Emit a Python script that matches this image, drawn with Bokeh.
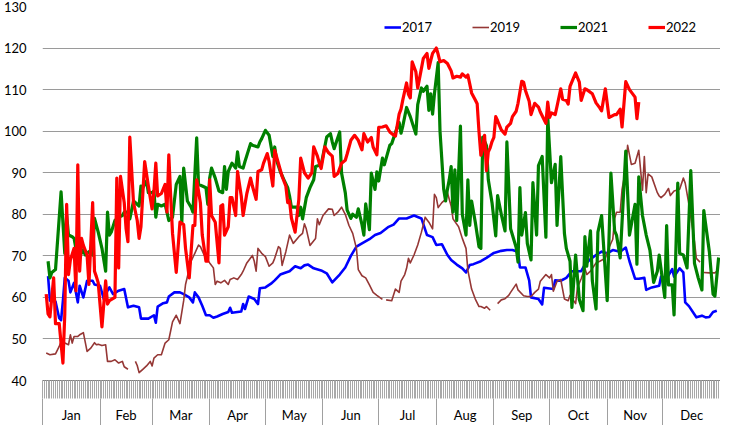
import numpy as np
from bokeh.plotting import figure
from bokeh.models import Range1d, FixedTicker, LinearAxis, Legend, LegendItem
from bokeh.embed import file_html
from bokeh.resources import INLINE

NaN = float("nan")

# ---- axis definitions ----
months = ["Jan", "Feb", "Mar", "Apr", "May", "Jun", "Jul", "Aug", "Sep", "Oct", "Nov", "Dec"]
month_starts = [0, 31, 59, 90, 120, 151, 181, 212, 243, 273, 304, 334, 365]
y_ticks = [40, 50, 60, 70, 80, 90, 100, 110, 120, 130]

# ---- series: (day of year, value) ----
pts_2017 = [(3,65.1),(4,59.2),(7,59),(9,55),(10,54.5),(11,59.2),(12,64.7),(14,64),(15,61.2),(17,63.5),
 (19,58.8),(20,62.8),(22,60),(24,64),(27,64),(28,63.1),(31,62.8),(33,59.6),(35,61.6),(36,62.4),
 (38,60.8),(41,61.6),(44,62),(46,57.6),(49,58),(52,57.6),(53,54.9),(57,54.9),(60,55.7),(61,53.9),
 (62,57.8),(65,58.6),(67,58.8),(68,60.2),(71,61.2),(74,61.2),(76,60.8),(79,60),(81,58.8),(82,61.2),
 (84,60),(86,58),(88,55.7),(90,55.7),(92,55.1),(94,55.4),(97,56),(100,56.5),(101,57.5),(102,56.3),
 (107,56.6),(108,58.4),(109,57.2),(111,60.2),(114,59.6),(116,58.4),(117,62.2),(120,62.4),(123,63.3),(125,64.1),
 (128,65.5),(131,66),(133,66.3),(136,67.5),(139,67),(141,67.7),(143,67.9),(146,67),(150,66.5),(153,65.8),
 (156,63.6),(160,65.5),(163,67.2),(166,70),(169,72.2),(172,73),(176,74),(179,75),(182,75.5),(186,76.9),
 (189,77.5),(192,79),(196,79),(200,79.7),(204,79),(207,75),(210,74.5),(212,72.6),(215,72.8),(218,70.2),
 (220,69),(223,67.9),(226,67),(228,66),(230,67.8),(232,68),(236,68.7),(239,69.5),(243,70.7),(247,71.2),
 (250,71.4),(253,71.4),(256,71),(257,67.2),(260,67.2),(262,64.1),(263,60),(267,59.6),(269,58.3),(270,62.3),
 (275,62),(276,64.1),(279,64),(282,64.7),(285,66.3),(290,66.3),(292,67.9),(295,69.2),(298,70.2),(301,71),
 (304,70.6),(307,71.4),(311,71),(314,72),(316,68.7),(319,64.5),(321,64.5),(324,64.7),(325,61.8),(328,62.4),
 (332,62.8),(333,65),(336,64.5),(339,66.8),(340,65),(343,67),(345,66),(346,58.8),(348,57.9),(352,55.2),
 (355,55.6),(357,55.2),(359,55.3),(361,56.5),(363,56.8)]

pts_2019 = [(2,46.6),(4,46.2),(7,46.4),(9,48.2),(10,49.4),(12,49),(14,48.6),(15,51),(16,49),(17,50.6),
 (19,50.6),(20,51),(22,51.5),(24,47),(26,47.8),(28,49.1),(29,48.6),(30,48.7),(32,48.4),(34,48.6),
 (35,44.6),(37,44.6),(39,45),(41,44.2),(43,44.6),(44,43.3),(46,42.7),(48,NaN),(50,44.6),(51,43.6),
 (52,41.9),(54,42.7),(56,43.5),(58,44.6),(59,43.5),(60,45.4),(62,46.2),(64,46.2),(66,49),(68,49.8),
 (70,54.1),(72,55.7),(74,53.7),(76,59.2),(77,63.1),(80,68.7),(82,70.6),(84,72.6),(85,72.2),(87,70.2),
 (90,68.3),(92,67.1),(93,63.1),(94,63.9),(96,63.5),(98,64.1),(100,63.1),(101,64.3),(103,64.7),(105,64.3),
 (107,65.5),(108,66.3),(110,68.3),(113,70.1),(114,68.7),(115,66.3),(116,71.8),(118,70.6),(120,69.8),(122,67.5),
 (124,68.3),(125,69.4),(127,72.2),(128,71.8),(129,67.7),(131,71),(133,75),(135,73),(138,74.6),(140,75.4),
 (141,77.7),(142,76.5),(144,72.5),(147,74.2),(148,78.9),(149,77.5),(151,79.7),(154,81.3),(156,81.2),(157,79.7),
 (159,80.5),(161,81.7),(163,80),(165,77.3),(167,75.4),(169,71.8),(170,66.7),(172,65.2),(174,64.7),(176,63),
 (178,61.2),(180,60.5),(183,59.5),(184,NaN),(185,59.4),(188,59.2),(190,62),(192,61.2),(193,63.9),(195,65.5),
 (196,67),(197,69.4),(198,68.3),(200,70.2),(202,72.6),(204,75.7),(206,79.3),(208,78.1),(210,76.5),(211,84.8),
 (212,84),(213,81.6),(215,82.8),(217,83.6),(218,85.2),(220,82),(221,78.9),(224,77),(226,74.2),(228,71.8),
 (229,66.5),(231,62),(233,59.6),(235,57.8),(236,57.8),(238,57.4),(239,57.8),(241,56.9),(243,NaN),(245,58.5),
 (247,59.4),(249,59.7),(251,60.5),(252,61.2),(255,63.2),(256,61.8),(259,60.4),(261,60.2),(263,60.2),(265,61.2),
 (267,62),(268,63.9),(271,65.5),(273,64.7),(274,65.5),(275,61.5),(277,63.9),(279,64.3),(281,59.6),(283,59.2),
 (284,60.5),(287,58.5),(288,62.4),(290,64.5),(292,67),(293,65.5),(295,66.3),(298,68.3),(300,68.7),(303,69.4),
 (305,72),(307,74),(308,79),(309,80.5),(311,80.5),(312,86),(314,91),(315,96.6),(317,92),(319,92.3),
 (321,95.4),(323,85.8),(324,93.9),(325,85.2),(326,89.7),(328,89),(331,85.2),(332,84.4),(333,84),(335,84.8),
 (337,86.2),(338,84.5),(340,85.6),(343,86),(345,88.7),(346,87.5),(348,82.4),(351,73.4),(352,69.4),(354,68.5),
 (355,NaN),(356,66),(359,65.9),(362,65.9),(364,66.7)]

pts_2021 = [(3,68.7),(4,64.7),(5,66),(7,66.7),(10,85.4),(12,70.6),(13,79.7),(14,75),(16,74.6),(17,74.2),
 (18,71.8),(20,73.4),(21,70.6),(22,71.4),(23,70.2),(25,71),(27,70.2),(28,79),(30,75.7),(32,71.8),
 (34,66.3),(35,80.5),(36,75),(37,75.7),(39,78.5),(41,79.3),(43,79.7),(44,80.5),(46,80.5),(47,78.9),
 (49,83.2),(52,82),(53,86.8),(54,86.4),(56,88),(57,85.2),(59,85.2),(60,85.6),(61,79.3),(62,82.4),
 (64,82),(66,82.4),(67,80.5),(68,78.5),(70,79.3),(72,87.2),(74,89.1),(75,78.1),(76,91.1),(78,83.2),
 (80,81.7),(81,80.5),(83,98.4),(84,87.2),(86,86.8),(88,86.4),(89,82.4),(90,88.7),(91,91.1),(93,88.7),
 (95,85.6),(97,85.2),(98,91.5),(99,86),(100,90.3),(102,92.3),(104,91.1),(105,95),(106,91.5),(108,91.1),
 (109,92.7),(112,97),(113,96.6),(116,96.2),(117,97.4),(118,98.2),(120,100.2),(122,99),(124,93.9),(125,96.2),
 (126,93),(128,90.3),(130,88.3),(132,86.4),(133,84.4),(134,81.7),(137,81.7),(138,79.7),(139,81.7),(140,78.9),
 (142,84),(144,86.4),(146,88.3),(147,91.5),(150,91.9),(153,98.6),(155,99.4),(156,97.4),(157,95.8),(160,99.8),
 (161,89.9),(163,85.2),(164,81),(166,79),(167,80),(169,79.3),(170,81.3),(172,77.5),(173,75),(174,82.5),
 (176,76.3),(177,89.9),(179,86),(180,90.2),(181,88),(183,93.5),(184,91.9),(187,96.6),(188,97),(191,101),
 (192,102.1),(193,99.5),(194,101.3),(196,105.7),(198,103.5),(201,99.3),(202,106.4),(204,110.4),(205,109.6),(207,110.8),
 (208,105),(209,109),(210,104.1),(211,109),(213,116.5),(214,100),(216,86),(217,83.2),(218,86),(219,88.4),
 (220,91.5),(221,80.5),(222,90.7),(223,78.5),(225,101.2),(226,80),(228,75),(229,88.3),(230,77.3),(231,83.2),
 (233,78.1),(235,72.2),(236,71.8),(237,98.6),(239,96.5),(240,88.3),(242,82.8),(244,74.8),(245,84.5),(247,80),
 (249,76),(250,97.4),(252,76.5),(255,72),(256,68.5),(257,86.4),(258,75),(260,80.4),(261,73),(263,69),
 (264,87.6),(266,75),(267,91.7),(269,93.9),(271,74.5),(272,103.5),(274,87.6),(276,92),(277,77.3),(279,93.9),
 (281,75.3),(282,71.8),(284,68.7),(285,57.6),(287,70.2),(288,64.7),(289,59.5),(291,56.8),(292,74.6),(293,67.5),
 (295,76),(296,64),(298,57.2),(299,75.7),(301,79.7),(304,59.2),(306,89.9),(308,76),(309,75),(311,69.5),
 (314,95.2),(316,75),(319,82.4),(320,68),(321,89),(323,79.7),(325,75),(327,71.4),(329,63.6),(331,66.3),
 (332,70.2),(335,60),(336,77.3),(337,63),(339,63),(340,55.8),(342,87.5),(343,70.6),(345,70.2),(347,67.1),
 (349,90.5),(351,68.2),(353,64.7),(355,61.8),(356,80.9),(359,71),(361,60.8),(362,60.3),(364,69.6)]

pts_2022 = [(2,60.8),(3,56),(4,55.3),(6,64.7),(7,53.7),(9,53.7),(11,44.2),(12,56),(13,82.4),(14,65.5),
 (15,69),(17,71.8),(18,61.6),(19,91.9),(20,66.3),(21,74.2),(22,72.5),(24,70.2),(25,63.1),(27,82.8),
 (28,66.3),(29,65),(30,63.5),(32,52.9),(34,64),(35,58.4),(36,59.2),(39,60),(40,88.7),(41,67.1),
 (42,89.1),(44,82.8),(45,76.5),(46,73.4),(47,98.6),(49,82.8),(51,78.5),(52,74.2),(53,77),(55,92.7),
 (57,86.8),(59,81.3),(60,85.6),(61,92.3),(62,84.4),(64,85),(66,87.2),(67,80.5),(68,94.3),(69,84.4),
 (70,75.4),(72,66),(74,78.1),(76,77.5),(77,71.8),(79,64.7),(81,77.3),(82,77.3),(83,88.3),(85,82.8),
 (86,75),(88,68.7),(89,68.7),(90,88.3),(91,79.7),(93,78.1),(95,68.3),(96,82),(97,82.3),(98,75),
 (100,77),(101,84),(102,84),(104,79.7),(105,90.3),(107,84.4),(108,79.7),(110,85),(112,88.7),(113,86.8),
 (115,83.6),(116,90.3),(118,90.7),(119,92.3),(121,94.6),(122,92.7),(124,86.8),(125,95.4),(127,92.3),(129,89.1),
 (131,86.8),(132,82.8),(133,83.2),(134,79.1),(136,75.7),(138,83.6),(139,93.5),(141,90),(143,88.7),(145,90),
 (146,96.2),(148,94),(149,92.3),(150,91),(152,96.2),(154,94.8),(156,94),(157,89.1),(159,89.8),(161,92.3),
 (163,93),(164,94.5),(166,97.8),(168,99),(170,97.8),(172,95.5),(173,99.4),(175,97.4),(177,98.5),(178,96.2),
 (180,94.3),(181,100.9),(183,101),(185,101.3),(187,99.8),(188,99.4),(190,98.8),(192,104.1),(193,105.3),(194,107.6),
 (196,111.6),(197,108.9),(198,108),(199,116.7),(201,114.3),(202,110.4),(204,115.1),(205,117.5),(207,118.7),(208,115.1),
 (209,117),(210,118.7),(212,120),(213,118.5),(214,116.7),(216,117),(218,116.3),(220,114.5),(221,112.8),(223,113.2),
 (225,113),(226,113.8),(228,113),(229,113.5),(230,111.4),(231,109.2),(233,107.5),(234,106.6),(235,99.8),(236,94.2),
 (237,96),(238,99),(239,90.5),(240,95),(241,96),(242,97.5),(243,98.5),(244,103.5),(245,102.5),(247,100.3),
 (249,99.3),(250,101),(252,101.9),(253,103.5),(255,104.8),(256,106.7),(258,112),(259,111.8),(260,109.8),(262,107.2),
 (263,104),(265,106.7),(267,105.8),(268,104.6),(271,101.9),(272,107),(273,103.3),(274,104.4),(276,104),(277,106),
 (279,110.2),(280,107.7),(282,107.4),(283,106.5),(284,110.8),(287,114),(289,111.8),(290,107.4),(292,110.2),(293,110),
 (296,109),(298,106.8),(300,105.6),(301,104.9),(303,110.2),(305,103.3),(306,103.5),(308,104),(309,104),(311,105.3),
 (312,101),(314,111.9),(316,110),(319,108.2),(320,103),(321,107)]

series = [
    ("2017", pts_2017, "#0000ff", 2.6),
    ("2019", pts_2019, "#953735", 1.6),
    ("2021", pts_2021, "#008000", 3.2),
    ("2022", pts_2022, "#ff0000", 3.2),
]

FONT = "Lato"
FS = "13px"

p = figure(width=720, height=425,
           x_range=Range1d(0, 365), y_range=Range1d(40, 130),
           x_axis_type=None, output_backend="svg", toolbar_location=None,
           min_border_left=37, min_border_right=0, min_border_top=6, min_border_bottom=0)
p.outline_line_color = None
p.background_fill_color = "white"
p.border_fill_color = "white"

# y axis
p.yaxis.ticker = FixedTicker(ticks=y_ticks)
p.yaxis.axis_line_color = None
p.yaxis.major_tick_line_color = None
p.yaxis.minor_tick_line_color = None
p.yaxis.major_tick_out = 0
p.yaxis.major_tick_in = 0
p.yaxis.major_label_standoff = 16
p.yaxis.major_label_text_font = FONT
p.yaxis.major_label_text_font_size = FS
p.yaxis.major_label_text_color = "#000000"
p.ygrid.grid_line_color = "#9a9a9a"
p.ygrid.grid_line_width = 1

# daily tick band (minor ticks only, no labels)
day_axis = LinearAxis(ticker=FixedTicker(ticks=[], minor_ticks=list(range(0, 366))),
                      major_tick_in=0, major_tick_out=18, major_tick_line_color=None,
                      minor_tick_in=0, minor_tick_out=18,
                      minor_tick_line_color="#a8a8a8", minor_tick_line_width=1,
                      axis_line_color="#808080", major_label_standoff=0)
p.add_layout(day_axis, "below")

# month labels with separators
mids = [float((month_starts[i] + month_starts[i + 1]) / 2) for i in range(12)]
month_axis = LinearAxis(ticker=FixedTicker(ticks=mids, minor_ticks=month_starts),
                        major_tick_in=0, major_tick_out=0, major_tick_line_color=None,
                        minor_tick_in=0, minor_tick_out=30, minor_tick_line_color="#a0a0a0",
                        axis_line_color=None,
                        major_label_overrides={m: n for m, n in zip(mids, months)},
                        major_label_standoff=-22,
                        major_label_text_font=FONT, major_label_text_font_size=FS,
                        major_label_text_color="#000000")
p.add_layout(month_axis, "below")

items = []
for name, pts, color, width in series:
    xs = np.array([d for d, _ in pts], dtype=float)
    ys = np.array([v for _, v in pts], dtype=float)
    r = p.line(xs, ys, line_color=color, line_width=width, line_join="round")
    items.append(LegendItem(label=name, renderers=[r]))

legend = Legend(items=items, orientation="horizontal", location=(342, 345),
                border_line_color=None, background_fill_alpha=0,
                glyph_width=17, glyph_height=14, label_standoff=1,
                label_width=70, label_height=14, spacing=0, padding=0, margin=0,
                label_text_font=FONT, label_text_font_size=FS, label_text_color="#000000")
p.add_layout(legend)

open("out.html", "w").write(file_html(p, INLINE))
